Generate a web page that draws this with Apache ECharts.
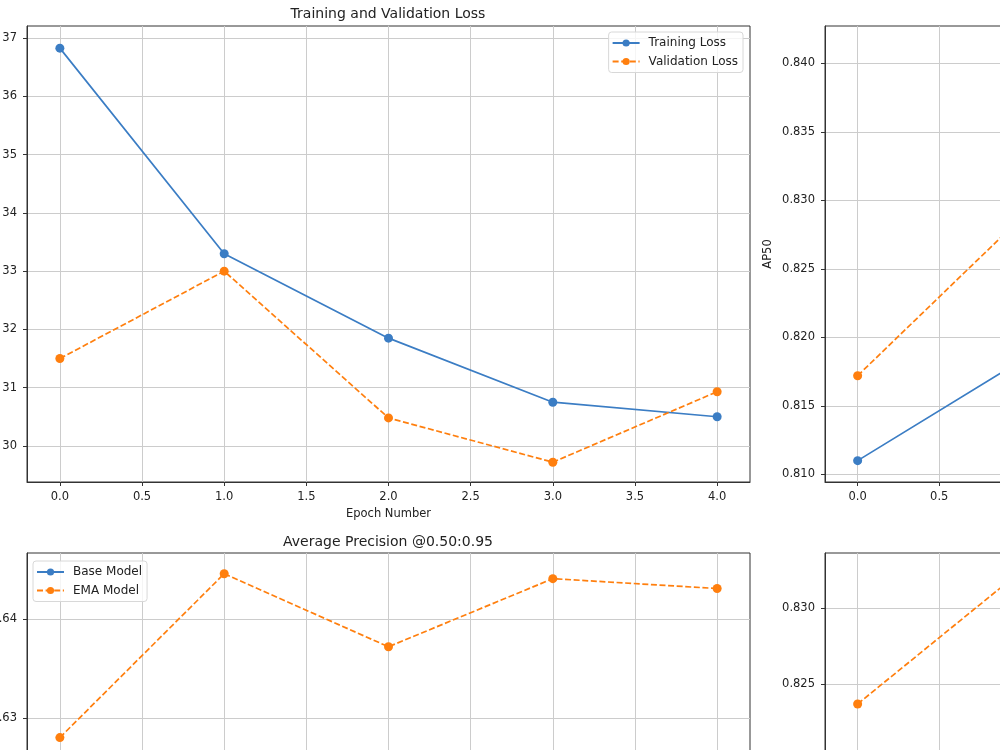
<!DOCTYPE html>
<html>
<head>
<meta charset="utf-8">
<script src="https://cdn.jsdelivr.net/npm/echarts@6/dist/echarts.min.js"></script>
<style>
  html, body { margin: 0; padding: 0; background: #fff; }
  #chart { width: 1000px; height: 750px; }
</style>
</head>
<body>
<div id="chart"></div>
<script>
// data
const epochs = [0, 1, 2, 3, 4]
const trainLoss = [36.83, 33.30, 31.85, 30.75, 30.50]
const valLoss = [31.50, 33.00, 30.48, 29.72, 30.93]
// AP50 (only epochs 0-1 are inside the picture, the rest are rough guesses)
const ap50Base = [0.8110, 0.8183, 0.8290, 0.8340, 0.8370]
const ap50Ema = [0.8172, 0.8287, 0.8360, 0.8412, 0.8405]
// AP @0.50:0.95 (base model sits below the visible area)
const apBase = [0.6026, 0.6140, 0.6120, 0.6190, 0.6200]
const apEma = [0.6280, 0.6446, 0.6372, 0.6441, 0.6431]
// lower right panel
const brBase = [0.8051, 0.8150, 0.8120, 0.8170, 0.8160]
const brEma = [0.8237, 0.8324, 0.8290, 0.8310, 0.8300]

// tick labels
const epochTicks = [0, 0.5, 1, 1.5, 2, 2.5, 3, 3.5, 4]
const lossTicks = [30, 31, 32, 33, 34, 35, 36, 37]
const ap50Ticks = [0.810, 0.815, 0.820, 0.825, 0.830, 0.835, 0.840]
const apTicks = [0.61, 0.62, 0.63, 0.64]
const brTicks = [0.805, 0.810, 0.815, 0.820, 0.825, 0.830]

const BLUE = '#3b7dc4'
const ORANGE = '#ff7f0e'
const FONT = 'DejaVu Sans'
const TXT = '#222'

const pairs = (ys) => epochs.map((x, i) => [x, ys[i]])

const mkX = (gridIndex, name) => ({
  type: 'value',
  gridIndex,
  min: -0.2,
  max: 4.2,
  splitNumber: 9,
  name,
  nameLocation: 'middle',
  nameGap: 24,
  nameTextStyle: { fontFamily: FONT, fontSize: 11.5, color: TXT },
  axisLine: { show: true, onZero: false, lineStyle: { color: '#333', width: 1 } },
  axisTick: { show: true, length: 4, lineStyle: { color: '#333' }, customValues: epochTicks },
  axisLabel: {
    fontFamily: FONT, fontSize: 11.5, color: TXT, margin: 9,
    customValues: epochTicks,
    formatter: (v) => v.toFixed(1)
  },
  splitLine: { show: true, lineStyle: { color: '#cccccc', width: 1 } }
})

const mkY = (gridIndex, min, max, splitNumber, ticks, digits, name) => ({
  type: 'value',
  gridIndex,
  min,
  max,
  splitNumber,
  name,
  nameLocation: 'middle',
  nameGap: 51,
  nameMoveOverlap: false,
  nameTextStyle: { fontFamily: FONT, fontSize: 11.5, color: TXT },
  axisLine: { show: true, onZero: false, lineStyle: { color: '#333', width: 1 } },
  axisTick: { show: true, length: 4, lineStyle: { color: '#333' }, customValues: ticks },
  axisLabel: {
    fontFamily: FONT, fontSize: 11.5, color: TXT, margin: 10,
    customValues: ticks,
    formatter: (v) => v.toFixed(digits)
  },
  splitLine: { show: true, lineStyle: { color: '#cccccc', width: 1 } }
})

const mkLine = (name, data, idx, dashed) => ({
  name,
  type: 'line',
  xAxisIndex: idx,
  yAxisIndex: idx,
  data: pairs(data),
  symbol: 'circle',
  symbolSize: 9,
  showSymbol: true,
  itemStyle: { color: dashed ? ORANGE : BLUE },
  lineStyle: { color: dashed ? ORANGE : BLUE, width: 1.7, type: dashed ? [6, 2.6] : 'solid' },
  emphasis: { disabled: true }
})

const legendBase = {
  orient: 'vertical',
  itemWidth: 27,
  itemHeight: 9,
  itemGap: 6.5,
  padding: [5, 5, 5, 3],
  backgroundColor: 'rgba(255,255,255,0.8)',
  borderColor: '#d8d8d8',
  borderWidth: 1,
  borderRadius: 3,
  textStyle: { fontFamily: FONT, fontSize: 12, color: TXT, padding: [0, 0, 0, 4] }
}

const mkGrid = (left, top, width) => ({
  left, top, width, height: 456,
  outerBoundsMode: 'none',
  containLabel: false,
  show: true, borderColor: '#333', borderWidth: 1
})

const chart = echarts.init(document.getElementById('chart'))
chart.setOption({
  animation: false,
  backgroundColor: '#fff',
  title: [
    {
      text: 'Training and Validation Loss',
      left: 388, top: 7, textAlign: 'center', padding: 0,
      textStyle: { fontFamily: FONT, fontSize: 14, fontWeight: 'normal', color: TXT }
    },
    {
      text: 'Average Precision @0.50:0.95',
      left: 388, top: 535, textAlign: 'center', padding: 0,
      textStyle: { fontFamily: FONT, fontSize: 14, fontWeight: 'normal', color: TXT }
    }
  ],
  legend: [
    Object.assign({}, legendBase, { data: ['Training Loss', 'Validation Loss'], right: 257, top: 32 }),
    Object.assign({}, legendBase, { data: ['Base Model', 'EMA Model'], left: 33, top: 561 })
  ],
  grid: [
    mkGrid(27, 26, 723),
    mkGrid(825, 26, 718),
    mkGrid(27, 553, 723),
    mkGrid(825, 553, 718)
  ],
  xAxis: [
    mkX(0, 'Epoch Number'),
    mkX(1, 'Epoch Number'),
    mkX(2, 'Epoch Number'),
    mkX(3, 'Epoch Number')
  ],
  yAxis: [
    mkY(0, 29.38, 37.21, 8, lossTicks, 0, ''),
    mkY(1, 0.80944, 0.84273, 7, ap50Ticks, 3, 'AP50'),
    mkY(2, 0.6005, 0.6467, 5, apTicks, 2, ''),
    mkY(3, 0.8037, 0.8336, 6, brTicks, 3, '')
  ],
  series: [
    mkLine('Training Loss', trainLoss, 0, false),
    mkLine('Validation Loss', valLoss, 0, true),
    mkLine('Base Model', ap50Base, 1, false),
    mkLine('EMA Model', ap50Ema, 1, true),
    mkLine('Base Model', apBase, 2, false),
    mkLine('EMA Model', apEma, 2, true),
    mkLine('Base Model', brBase, 3, false),
    mkLine('EMA Model', brEma, 3, true)
  ]
})
</script>
</body>
</html>
